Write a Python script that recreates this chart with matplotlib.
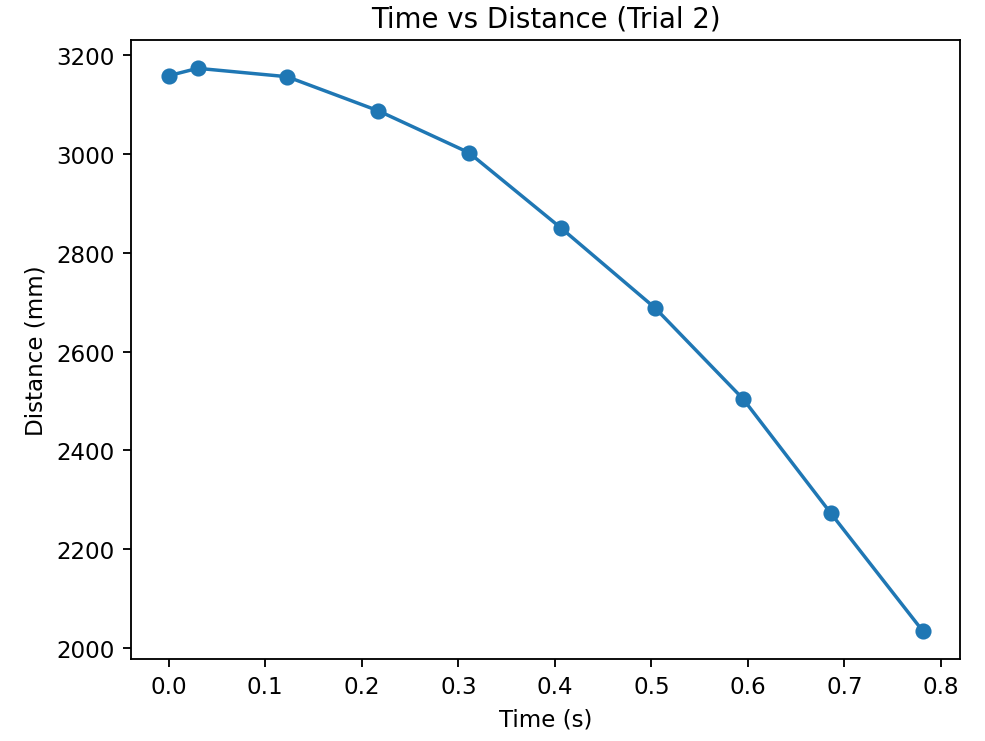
import matplotlib
matplotlib.use("Agg")
import matplotlib.pyplot as plt

# data
time_s = [0.0, 0.030, 0.1226, 0.217, 0.311, 0.406, 0.504, 0.595, 0.686, 0.781]
distance_mm = [3159, 3174, 3157, 3088, 3003, 2851, 2688, 2504, 2272, 2034]

DPI = 166
fig = plt.figure(figsize=(985 / DPI, 742 / DPI), dpi=DPI)
ax = fig.add_axes([0.133, 0.1105, 0.842, 0.834])
ax.plot(time_s, distance_mm, marker="o")
ax.set_xlabel("Time (s)")
ax.set_ylabel("Distance (mm)")
ax.set_title("Time vs Distance (Trial 2)")

fig.savefig("out.png")
